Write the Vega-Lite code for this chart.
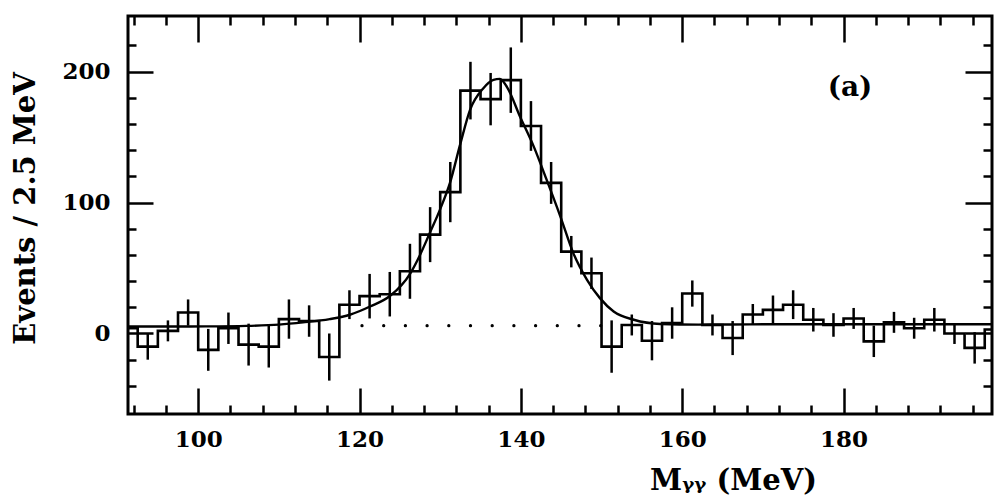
{
  "$schema": "https://vega.github.io/schema/vega-lite/v6.json",
  "width": 864,
  "height": 398,
  "autosize": "none",
  "padding": {"left": 128, "top": 16, "right": 3, "bottom": 84},
  "background": "white",
  "config": {
    "view": {"stroke": "black", "strokeWidth": 3},
    "axis": {
      "domain": false,
      "grid": false,
      "tickColor": "black",
      "tickWidth": 2.5,
      "labelFont": "DejaVu Serif",
      "labelFontWeight": "bold",
      "labelFontSize": 23,
      "labelColor": "black",
      "titleFont": "DejaVu Serif",
      "titleFontWeight": "bold",
      "titleFontSize": 29,
      "titleColor": "black"
    }
  },
  "datasets": {
    "hist": [
      {"lo": 90, "count": 4},
      {"lo": 92.5, "count": -10},
      {"lo": 95, "count": 2},
      {"lo": 97.5, "count": 16},
      {"lo": 100, "count": -12.5},
      {"lo": 102.5, "count": 4},
      {"lo": 105, "count": -8.5},
      {"lo": 107.5, "count": -10},
      {"lo": 110, "count": 11},
      {"lo": 112.5, "count": 9.5},
      {"lo": 115, "count": -18},
      {"lo": 117.5, "count": 22},
      {"lo": 120, "count": 28.5},
      {"lo": 122.5, "count": 30},
      {"lo": 125, "count": 47.5},
      {"lo": 127.5, "count": 75.5},
      {"lo": 130, "count": 108},
      {"lo": 132.5, "count": 185.5},
      {"lo": 135, "count": 179},
      {"lo": 137.5, "count": 193.5},
      {"lo": 140, "count": 158.5},
      {"lo": 142.5, "count": 115},
      {"lo": 145, "count": 62.5},
      {"lo": 147.5, "count": 46},
      {"lo": 150, "count": -10},
      {"lo": 152.5, "count": 6.5},
      {"lo": 155, "count": -5.5},
      {"lo": 157.5, "count": 8},
      {"lo": 160, "count": 30.5},
      {"lo": 162.5, "count": 6.5},
      {"lo": 165, "count": -3.5},
      {"lo": 167.5, "count": 14.5},
      {"lo": 170, "count": 18},
      {"lo": 172.5, "count": 22},
      {"lo": 175, "count": 10.5},
      {"lo": 177.5, "count": 6.5},
      {"lo": 180, "count": 11.5},
      {"lo": 182.5, "count": -6},
      {"lo": 185, "count": 8.5},
      {"lo": 187.5, "count": 4},
      {"lo": 190, "count": 10.5},
      {"lo": 192.5, "count": 0},
      {"lo": 195, "count": -11},
      {"lo": 197.5, "count": 3},
      {"lo": 200, "count": 3}
    ],
    "errs": [
      {"m": 93.75, "v": -10, "e": 10},
      {"m": 96.25, "v": 2, "e": 8},
      {"m": 98.75, "v": 16, "e": 10},
      {"m": 101.25, "v": -12.5, "e": 16},
      {"m": 103.75, "v": 4, "e": 12},
      {"m": 106.25, "v": -8.5, "e": 16},
      {"m": 108.75, "v": -10, "e": 16},
      {"m": 111.25, "v": 11, "e": 15},
      {"m": 113.75, "v": 9.5, "e": 12},
      {"m": 116.25, "v": -18, "e": 18},
      {"m": 118.75, "v": 22, "e": 11},
      {"m": 121.25, "v": 28.5, "e": 17},
      {"m": 123.75, "v": 30, "e": 17},
      {"m": 126.25, "v": 47.5, "e": 21},
      {"m": 128.75, "v": 75.5, "e": 21},
      {"m": 131.25, "v": 108, "e": 23},
      {"m": 133.75, "v": 185.5, "e": 22},
      {"m": 136.25, "v": 179, "e": 20},
      {"m": 138.75, "v": 193.5, "e": 25},
      {"m": 141.25, "v": 158.5, "e": 19},
      {"m": 143.75, "v": 115, "e": 16},
      {"m": 146.25, "v": 62.5, "e": 12},
      {"m": 148.75, "v": 46, "e": 12},
      {"m": 151.25, "v": -10, "e": 20},
      {"m": 153.75, "v": 6.5, "e": 8},
      {"m": 156.25, "v": -5.5, "e": 15},
      {"m": 158.75, "v": 8, "e": 12},
      {"m": 161.25, "v": 30.5, "e": 10},
      {"m": 163.75, "v": 6.5, "e": 8},
      {"m": 166.25, "v": -3.5, "e": 13},
      {"m": 168.75, "v": 14.5, "e": 8},
      {"m": 171.25, "v": 18, "e": 11},
      {"m": 173.75, "v": 22, "e": 11},
      {"m": 176.25, "v": 10.5, "e": 9},
      {"m": 178.75, "v": 6.5, "e": 9},
      {"m": 181.25, "v": 11.5, "e": 8},
      {"m": 183.75, "v": -6, "e": 12},
      {"m": 186.25, "v": 8.5, "e": 8},
      {"m": 188.75, "v": 4, "e": 8},
      {"m": 191.25, "v": 10.5, "e": 9},
      {"m": 193.75, "v": 0, "e": 8},
      {"m": 196.25, "v": -11, "e": 12}
    ],
    "fit": [
      {"mass": 91, "events": 5.3},
      {"mass": 96, "events": 5.3},
      {"mass": 101, "events": 5.4},
      {"mass": 106, "events": 5.8},
      {"mass": 110, "events": 6.8},
      {"mass": 113, "events": 8.5},
      {"mass": 116.3, "events": 11},
      {"mass": 118.8, "events": 14.3},
      {"mass": 121.3, "events": 20.6},
      {"mass": 123.8, "events": 28.8},
      {"mass": 126.3, "events": 46},
      {"mass": 127.5, "events": 60},
      {"mass": 128.7, "events": 76.6},
      {"mass": 130, "events": 95},
      {"mass": 131.2, "events": 114.8},
      {"mass": 132.5, "events": 145},
      {"mass": 133.7, "events": 170.8},
      {"mass": 135.3, "events": 187},
      {"mass": 136.6, "events": 193.7},
      {"mass": 137.4, "events": 194.5},
      {"mass": 138.3, "events": 188},
      {"mass": 139.9, "events": 165.6},
      {"mass": 141.6, "events": 142.7},
      {"mass": 143.2, "events": 117.3},
      {"mass": 144.9, "events": 89.3},
      {"mass": 146.5, "events": 61.4},
      {"mass": 148.2, "events": 41},
      {"mass": 149.8, "events": 27},
      {"mass": 151.5, "events": 16.8},
      {"mass": 154, "events": 10.5},
      {"mass": 157.3, "events": 7.3},
      {"mass": 162, "events": 6.8},
      {"mass": 170, "events": 7},
      {"mass": 180, "events": 7},
      {"mass": 190, "events": 7},
      {"mass": 199, "events": 7}
    ]
  },
  "layer": [
    {
      "data": {"name": "hist"},
      "mark": {"type": "line", "interpolate": "step-after", "color": "black", "strokeWidth": 2.6, "clip": true},
      "encoding": {
        "x": {
          "field": "lo", "type": "quantitative",
          "scale": {"domain": [91.3, 198.4], "nice": false, "zero": false},
          "axis": {
            "orient": "bottom", "values": [100, 120, 140, 160, 180],
            "tickSize": -26, "labelPadding": 40,
            "title": "Mᵧᵧ (MeV)", "titleX": 605, "titleY": 66, "titleBaseline": "middle"
          }
        },
        "y": {
          "field": "count", "type": "quantitative",
          "scale": {"domain": [-61.5, 242.5], "nice": false, "zero": false},
          "axis": {
            "orient": "left", "values": [0, 100, 200],
            "tickSize": -25, "labelPadding": 43,
            "title": "Events / 2.5 MeV", "titleX": -103, "titleY": 192, "titleBaseline": "middle"
          }
        }
      }
    },
    {
      "data": {"name": "errs"},
      "mark": {"type": "errorbar", "ticks": false, "thickness": 2.5, "color": "black"},
      "encoding": {
        "x": {"field": "m", "type": "quantitative", "axis": null},
        "y": {"field": "v", "type": "quantitative", "axis": null},
        "yError": {"field": "e"}
      }
    },
    {
      "data": {"name": "fit"},
      "mark": {"type": "line", "interpolate": "monotone", "color": "black", "strokeWidth": 2.4, "clip": true},
      "encoding": {
        "x": {
          "field": "mass", "type": "quantitative",
          "axis": {"orient": "top", "values": [100, 120, 140, 160, 180], "tickSize": -26, "labels": false, "title": null}
        },
        "y": {
          "field": "events", "type": "quantitative",
          "axis": {"orient": "right", "values": [0, 100, 200], "tickSize": -27, "labels": false, "title": null}
        }
      }
    },
    {
      "data": {"values": [{"from": 120.3, "to": 150, "level": 6}]},
      "mark": {"type": "rule", "color": "black", "strokeWidth": 3.2, "strokeCap": "round", "strokeDash": [0.1, 21.6]},
      "encoding": {
        "x": {
          "field": "from", "type": "quantitative",
          "axis": {"orient": "top", "values": [92, 96, 104, 108, 112, 116, 124, 128, 132, 136, 144, 148, 152, 156, 164, 168, 172, 176, 184, 188, 192, 196], "tickSize": -9, "labels": false, "title": null}
        },
        "x2": {"field": "to"},
        "y": {
          "field": "level", "type": "quantitative",
          "axis": {"orient": "right", "values": [-40, -20, 20, 40, 60, 80, 120, 140, 160, 180, 220], "tickSize": -9, "labels": false, "title": null}
        }
      }
    },
    {
      "data": {"values": [{"px": 180.8, "py": 187.6, "tag": "(a)"}]},
      "mark": {"type": "text", "font": "DejaVu Serif", "fontWeight": "bold", "fontSize": 28, "color": "black", "align": "center", "baseline": "middle"},
      "encoding": {
        "x": {
          "field": "px", "type": "quantitative",
          "axis": {"orient": "bottom", "values": [92, 96, 104, 108, 112, 116, 124, 128, 132, 136, 144, 148, 152, 156, 164, 168, 172, 176, 184, 188, 192, 196], "tickSize": -9, "labels": false, "title": null}
        },
        "y": {
          "field": "py", "type": "quantitative",
          "axis": {"orient": "left", "values": [-40, -20, 20, 40, 60, 80, 120, 140, 160, 180, 220], "tickSize": -8, "labels": false, "title": null}
        },
        "text": {"field": "tag"}
      }
    }
  ],
  "resolve": {"axis": {"x": "independent", "y": "independent"}}
}
